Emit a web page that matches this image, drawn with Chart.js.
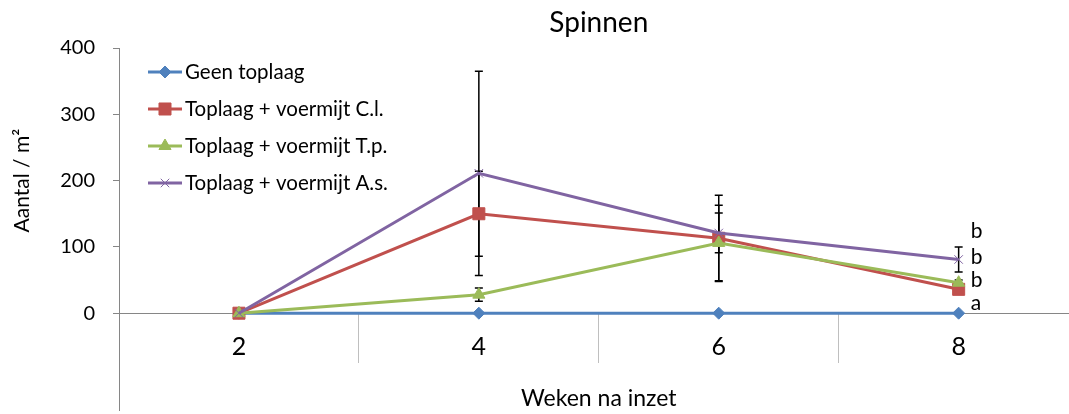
<!DOCTYPE html>
<html>
<head>
<meta charset="utf-8">
<script src="https://cdn.jsdelivr.net/npm/chart.js@4/dist/chart.umd.min.js"></script>
<style>
  html, body { margin: 0; padding: 0; background: #fff; }
  #chart { display: block; }
</style>
</head>
<body>
<canvas id="chart" width="1069" height="414"></canvas>
<script>
const weeks = [2, 4, 6, 8];
const seriesNames = [
  'Geen toplaag',
  'Toplaag + voermijt C.l.',
  'Toplaag + voermijt T.p.',
  'Toplaag + voermijt A.s.',
];
const geen = [0, 0, 0, 0];
const cl = [0, 150, 113, 36];
const tp = [0, 28, 106, 46];
const as = [0, 211, 121, 81];

// +/- error per point
const geenErr = [0, 0, 0, 0];
const clErr = [0, 64, 65, 4];
const tpErr = [0, 10, 57, 4];
const asErr = [0, 154, 30, 19];

const yTicks = [0, 100, 200, 300, 400];

// significance letters next to week 8, with the value they sit at
const sigLetters = ['a', 'b', 'b', 'b'];
const sigLevels = [12, 46, 81, 121];

const COLORS = {
  blue: '#4f81bd',
  red: '#c0504d',
  green: '#9bbb59',
  purple: '#8064a2',
  axis: '#868686',
  sep: '#bfbfbf',
  text: '#000',
};
const FONT = 'Lato, "Open Sans", sans-serif';

const styles = [
  { color: COLORS.blue, pointStyle: 'rectRot', radius: 6, order: 3 },
  { color: COLORS.red, pointStyle: 'rect', radius: 8.5, order: 2 },
  { color: COLORS.green, pointStyle: 'triangle', radius: 7, order: 1 },
  { color: COLORS.purple, pointStyle: 'crossRot', radius: 6, order: 0 },
];
const values = [geen, cl, tp, as];
const errors = [geenErr, clErr, tpErr, asErr];

const datasets = values.map((vals, i) => ({
  label: seriesNames[i],
  data: vals.map((v, j) => ({ x: weeks[j], y: v })),
  borderColor: styles[i].color,
  backgroundColor: styles[i].color,
  pointBackgroundColor: styles[i].color,
  pointBorderColor: styles[i].color,
  pointBorderWidth: 1,
  pointStyle: styles[i].pointStyle,
  pointRadius: styles[i].radius,
  borderWidth: 3,
  tension: 0,
  order: styles[i].order,
}));

const errorBars = {
  id: 'errorBars',
  beforeDatasetsDraw(chart) {
    const { ctx } = chart;
    const y = chart.scales.y;
    ctx.save();
    ctx.strokeStyle = '#000';
    ctx.lineWidth = 1.5;
    chart.data.datasets.forEach((ds, i) => {
      const meta = chart.getDatasetMeta(i);
      errors[i].forEach((e, j) => {
        if (!e) return;
        const px = meta.data[j].x;
        const v = values[i][j];
        const top = y.getPixelForValue(v + e);
        const bot = y.getPixelForValue(v - e);
        ctx.beginPath();
        ctx.moveTo(px, top); ctx.lineTo(px, bot);
        ctx.moveTo(px - 4, top); ctx.lineTo(px + 4, top);
        ctx.moveTo(px - 4, bot); ctx.lineTo(px + 4, bot);
        ctx.stroke();
      });
    });
    ctx.restore();
  },
};

const extras = {
  id: 'extras',
  afterDraw(chart) {
    const { ctx, chartArea } = chart;
    const x = chart.scales.x;
    const y = chart.scales.y;
    const xMid = (x.getPixelForValue(weeks[0] - 1) + x.getPixelForValue(weeks[weeks.length - 1] + 1)) / 2;
    ctx.save();
    ctx.fillStyle = COLORS.text;
    ctx.textBaseline = 'middle';

    // title
    ctx.font = `28px ${FONT}`;
    ctx.textAlign = 'center';
    ctx.fillText('Spinnen', xMid, 23);

    // y title, centred on the 0..400 range
    const yMid = (y.getPixelForValue(yTicks[0]) + y.getPixelForValue(yTicks[yTicks.length - 1])) / 2;
    ctx.save();
    ctx.translate(22, yMid);
    ctx.rotate(-Math.PI / 2);
    ctx.font = `21px ${FONT}`;
    ctx.fillText('Aantal / m²', 0, 0);
    ctx.restore();

    // x title
    ctx.font = `23px ${FONT}`;
    ctx.fillText('Weken na inzet', xMid, chartArea.bottom - 11);

    // letters
    ctx.font = `21px ${FONT}`;
    ctx.textAlign = 'left';
    const lx = x.getPixelForValue(weeks[weeks.length - 1]) + 12;
    sigLetters.forEach((l, i) => {
      ctx.fillText(l, lx, y.getPixelForValue(sigLevels[i]) - 2);
    });

    // legend
    const lx0 = chartArea.left + 29;
    const rowY = [72, 109, 146, 183];
    ctx.font = `20.5px ${FONT}`;
    chart.data.datasets.forEach((ds, i) => {
      const ry = rowY[i];
      ctx.strokeStyle = ds.borderColor;
      ctx.lineWidth = 3;
      ctx.beginPath();
      ctx.moveTo(lx0, ry); ctx.lineTo(lx0 + 34, ry);
      ctx.stroke();
      ctx.fillStyle = ds.borderColor;
      ctx.lineWidth = 1;
      Chart.helpers.drawPoint(ctx, {
        pointStyle: ds.pointStyle,
        radius: ds.pointRadius,
        rotation: 0,
        borderWidth: 1,
      }, lx0 + 17, ry);
      ctx.fillStyle = COLORS.text;
      ctx.textAlign = 'left';
      ctx.fillText(ds.label, lx0 + 37, ry);
    });
    ctx.restore();
  },
};

new Chart(document.getElementById('chart'), {
  type: 'line',
  data: { datasets },
  plugins: [errorBars, extras],
  options: {
    responsive: false,
    animation: false,
    devicePixelRatio: 1,
    layout: { autoPadding: false, padding: { left: 0, right: 0, top: 48, bottom: 4 } },
    plugins: {
      legend: { display: false },
      tooltip: { enabled: false },
      title: { display: false },
    },
    scales: {
      x: {
        type: 'linear',
        position: { y: 0 },
        min: 1,
        max: 8.92,
        afterFit: (axis) => {
          axis.height = 0;
          axis.paddingLeft = 0;
          axis.paddingRight = 0;
        },
        afterBuildTicks: (axis) => { axis.ticks = weeks.map((v) => ({ value: v })); },
        ticks: {
          color: COLORS.text,
          font: { family: FONT, size: 25 },
          padding: -30,
          maxRotation: 0,
          autoSkip: false,
        },
        grid: {
          offset: true,
          drawOnChartArea: false,
          tickLength: 49,
          color: COLORS.sep,
          lineWidth: 1,
        },
        border: { color: COLORS.axis, width: 1 },
      },
      y: {
        type: 'linear',
        min: -146,
        max: 400,
        afterFit: (axis) => {
          axis.width = 119;
          axis.paddingTop = 0;
          axis.paddingBottom = 0;
        },
        afterBuildTicks: (axis) => { axis.ticks = yTicks.map((v) => ({ value: v })); },
        ticks: {
          color: COLORS.text,
          font: { family: FONT, size: 20 },
          padding: 18,
        },
        grid: {
          drawOnChartArea: false,
          tickLength: 6,
          color: COLORS.axis,
        },
        border: { color: COLORS.axis, width: 1 },
      },
    },
  },
});
</script>
</body>
</html>
